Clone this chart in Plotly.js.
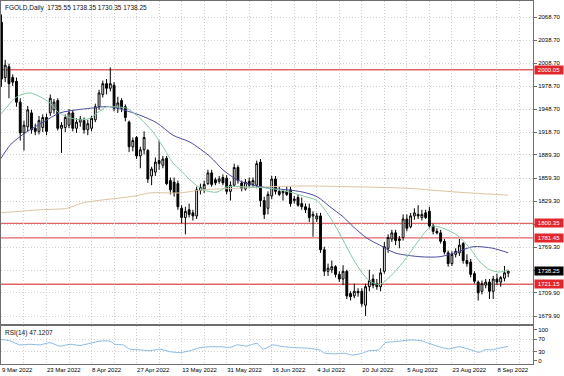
<!DOCTYPE html>
<html><head><meta charset="utf-8">
<script src="https://cdn.plot.ly/plotly-3.0.1.min.js"></script>
<style>html,body{margin:0;padding:0;background:#fff;overflow:hidden}#chart{width:564px;height:376px}</style>
</head><body><div id="chart"></div>
<script>
// ---- data ----
const openP  = [2062,1990,2004,1990,1985,1958,1918,1926,1944,1924,1920,1925,1938,1944,1948,1960,1924,1925,1928,1944,1924,1932,1934,1922,1924,1935,1952,1968,1982,1976,1980,1950,1960,1952,1932,1900,1912,1888,1896,1895,1862,1867,1882,1876,1885,1856,1854,1852,1820,1808,1818,1814,1810,1843,1845,1852,1866,1857,1855,1860,1859,1842,1850,1873,1853,1845,1855,1851,1850,1880,1830,1820,1836,1858,1842,1840,1842,1844,1830,1834,1826,1822,1820,1810,1806,1810,1766,1738,1740,1744,1734,1728,1738,1709,1706,1712,1712,1694,1718,1728,1722,1718,1738,1768,1780,1788,1778,1782,1806,1796,1810,1812,1808,1814,1816,1797,1790,1788,1777,1762,1748,1760,1762,1774,1752,1750,1735,1724,1712,1720,1724,1712,1728,1724,1729,1735.55];
const highP  = [2072,2013,2008,1994,1990,1963,1934,1953,1948,1930,1940,1942,1943,1968,1962,1963,1932,1942,1949,1948,1937,1940,1938,1935,1940,1956,1974,1986,1988,2003,1984,1965,1963,1955,1934,1912,1914,1900,1920,1897,1874,1886,1908,1888,1888,1860,1860,1856,1824,1822,1826,1818,1848,1852,1856,1870,1870,1860,1862,1864,1863,1855,1878,1876,1856,1858,1860,1860,1882,1884,1835,1842,1862,1862,1848,1845,1848,1848,1836,1838,1834,1826,1826,1816,1814,1814,1770,1748,1752,1746,1738,1746,1740,1712,1722,1716,1716,1722,1740,1734,1728,1742,1776,1786,1792,1792,1784,1812,1812,1814,1820,1824,1818,1818,1822,1800,1794,1792,1780,1765,1764,1768,1780,1776,1760,1754,1738,1726,1726,1728,1728,1732,1735,1732,1745,1738.35];
const lowP   = [1978,1984,1963,1979,1952,1908,1895,1920,1917,1915,1916,1919,1915,1940,1943,1921,1892,1919,1924,1920,1918,1926,1917,1915,1920,1932,1948,1964,1968,1972,1946,1944,1945,1933,1893,1894,1884,1872,1890,1853,1850,1862,1870,1872,1850,1838,1835,1818,1800,1786,1808,1804,1806,1838,1840,1850,1848,1850,1852,1850,1838,1830,1848,1852,1842,1843,1846,1848,1846,1822,1806,1812,1832,1838,1836,1830,1836,1822,1826,1822,1818,1814,1802,1783,1802,1762,1732,1732,1736,1730,1724,1720,1702,1700,1703,1705,1692,1680,1712,1716,1714,1712,1735,1762,1776,1772,1768,1778,1790,1794,1805,1806,1804,1806,1794,1786,1786,1774,1760,1744,1745,1756,1758,1748,1744,1730,1722,1700,1708,1716,1702,1702,1720,1718,1725,1730.35];
const closeP = [1988,2006,1982,1984,1958,1918,1928,1948,1922,1920,1934,1938,1920,1963,1958,1924,1928,1938,1944,1924,1932,1936,1922,1930,1937,1952,1970,1982,1976,1982,1950,1957,1950,1938,1900,1908,1888,1896,1912,1858,1871,1880,1878,1884,1852,1844,1840,1822,1808,1816,1812,1810,1844,1847,1851,1866,1851,1853,1858,1853,1842,1850,1873,1856,1846,1854,1850,1856,1878,1830,1812,1838,1858,1842,1838,1842,1838,1826,1832,1824,1822,1818,1808,1812,1810,1766,1738,1742,1744,1734,1728,1738,1706,1705,1712,1710,1696,1718,1726,1720,1718,1736,1770,1782,1788,1778,1780,1806,1794,1810,1814,1810,1812,1808,1797,1790,1788,1777,1763,1748,1760,1764,1772,1752,1748,1734,1725,1710,1722,1724,1712,1728,1724,1730,1736,1738.25];

const dateLabels = ["9 Mar 2022","23 Mar 2022","8 Apr 2022","27 Apr 2022","13 May 2022","31 May 2022","16 Jun 2022","4 Jul 2022","20 Jul 2022","5 Aug 2022","23 Aug 2022","8 Sep 2022"];
const dateLabelBars = [0,12,24,36,48,60,72,84,96,108,120,132];

const maFastBar = [-0.4,3.6,4.9,7.6,10.3,12.9,15.1,17.5,20.9,23.6,25.5,28.1,29.7,33.4,36.9,40.4,43,45.7,47.6,50.2,53.7,57.4,60.1,64.4,71.5,76.9,80.3,84,87,90,93,95.5,98.2,100.8,103.5,107,110.7,113.4,115,117.6,121.4,124.8,127.5,130.1,132.8,135];
const maFast    = [1941,1963,1967,1970,1965,1957,1945,1939,1935,1937,1944,1952,1952,1950,1937,1919,1900,1879,1870,1857,1844,1841,1848,1848,1846,1841,1836,1830,1812,1788,1760,1740,1725,1721,1731,1750,1775,1792,1797,1794,1785,1768,1750,1740,1737,1740];

const maMidBar = [-0.4,2.3,4.9,7.6,11.1,15.6,20.1,23.6,27.1,28.9,32.4,36.9,41.4,45.7,50.2,55.6,59,62.8,67,71.5,76.1,80.3,84.1,87.5,91,93.7,97.4,100.8,104.8,111.5,116.8,121.4,125.6,130.9,135];
const maMid    = [1883,1902,1913,1922,1932,1944,1948,1950,1952,1952,1948,1941,1931,1915,1906,1887,1870,1857,1850,1846,1844,1841,1835,1822,1809,1796,1781,1772,1762,1757,1757,1763,1770,1768,1762];

const maSlowBar = [-0.4,10.3,17.5,21.7,30.8,35.6,39.6,47.6,53.7,62.8,71.5,80.3,92.9,108,121.4,135];
const maSlow    = [1814,1818,1820,1827,1833,1836,1840,1840,1844,1846,1848,1849,1848,1846,1841,1837];

const rsiBar = [-0.4,2.3,4.9,7.6,10.3,12.9,15.6,18.3,20.9,23.6,26.3,28.9,30.2,32.4,34.2,36.9,39.6,42.2,44.9,47.6,50.2,52.9,55.6,58.2,60.9,62.8,65.4,68.1,69.7,72.3,74.7,78.2,81.9,84.6,86.2,88.9,91.5,93.4,96.1,97.9,100.6,102.2,104.8,106.7,109.4,112,113.9,116.6,119.2,121.9,124.6,127.2,128.8,130.7,132.5,135];
const rsiVal = [70,65,52,54,52,59,48,54,50,57,64,64,54,52,38,36,33,38,30,27,33,43,46,46,44,52,48,57,38,52,47,43,41,36,25,23,25,19,25,33,36,59,62,65,68,65,57,46,39,46,38,28,36,36,41,47.12];
const rsiLast = 47.1207;

const levelPrices = [2000.05, 1800.35, 1781.45, 1721.15];
const lastPrice = 1738.25;
const priceTicks = [2068.70,2038.70,2008.70,1978.70,1948.70,1918.70,1889.30,1859.30,1829.30,1799.30,1769.30,1739.60,1709.90,1679.90];
const rsiTicks = [100,70,30,0];
const rsiLevels = [70,30];

// ---- build ----
const FONT = "Liberation Sans, Arial, sans-serif";
const GRID = "#cfcfcf";
const DASH = "1px,2px";
const BORDER = "#6e6e6e";
const barIndex = closeP.map((_, i) => i);
const last = closeP.length - 1;

const gridBars = [], gridText = [];
for (let b = 0; b <= 138; b += 6) {
  gridBars.push(b);
  const k = dateLabelBars.indexOf(b);
  gridText.push(k >= 0 ? dateLabels[k] : "");
}

const traces = [
  {type:'scatter', mode:'lines', x:maSlowBar, y:maSlow, line:{color:'#dcc3a2', width:1, shape:'spline', smoothing:0.8}, hoverinfo:'skip', xaxis:'x', yaxis:'y'},
  {type:'scatter', mode:'lines', x:maMidBar, y:maMid, line:{color:'#4b4b9e', width:1, shape:'spline', smoothing:0.8}, hoverinfo:'skip', xaxis:'x', yaxis:'y'},
  {type:'scatter', mode:'lines', x:maFastBar, y:maFast, line:{color:'#86c9a4', width:1, shape:'spline', smoothing:0.8}, hoverinfo:'skip', xaxis:'x', yaxis:'y'},
  {type:'candlestick', x:barIndex, open:openP, high:highP, low:lowP, close:closeP,
   increasing:{line:{color:'#000', width:1}, fillcolor:'#ffffff'},
   decreasing:{line:{color:'#000', width:1}, fillcolor:'#000000'},
   whiskerwidth:0, hoverinfo:'skip', xaxis:'x', yaxis:'y'},
  {type:'scatter', mode:'lines', x:rsiBar, y:rsiVal, line:{color:'#8dbbe3', width:1, shape:'spline', smoothing:0.6}, hoverinfo:'skip', xaxis:'x', yaxis:'y2'}
];

const shapes = levelPrices.map(p => ({type:'line', xref:'paper', x0:0, x1:1, yref:'y', y0:p, y1:p, line:{color:'#e06464', width:1.4}, layer:'below'}));

const annotations = [
  {xref:'paper', yref:'paper', x:0, y:1, xanchor:'left', yanchor:'top', xshift:2, yshift:-1, showarrow:false,
   text:'FGOLD,Daily&nbsp;&nbsp;' + [openP[last], highP[last], lowP[last], closeP[last]].map(v => v.toFixed(2)).join(' '),
   font:{family:FONT, size:6.5, color:'#111'}},
  {xref:'paper', yref:'paper', x:0, y:0.1047, xanchor:'left', yanchor:'top', xshift:2, yshift:-1, showarrow:false,
   text:'RSI(14) ' + rsiLast.toFixed(4), font:{family:FONT, size:6.5, color:'#111'}}
];
levelPrices.forEach(p => annotations.push({xref:'paper', x:1, xanchor:'left', xshift:1, yref:'y', y:p, showarrow:false,
  text:p.toFixed(2), bgcolor:'#e3262b', font:{family:FONT, size:6, color:'#fff'}, width:28, height:8, borderpad:0}));
annotations.push({xref:'paper', x:1, xanchor:'left', xshift:1, yref:'y', y:lastPrice, showarrow:false,
  text:lastPrice.toFixed(2), bgcolor:'#000', font:{family:FONT, size:6, color:'#fff'}, width:28, height:8, borderpad:0});

const layout = {
  width:564, height:376, margin:{l:1, r:31, t:1, b:12},
  paper_bgcolor:'#fff', plot_bgcolor:'#fff', showlegend:false,
  font:{family:FONT, size:6, color:'#000'},
  xaxis:{range:[-0.12, 141.6], anchor:'y2', tickmode:'array', tickvals:gridBars, ticktext:gridText,
    ticklabelposition:'outside right', tickfont:{family:FONT, size:6, color:'#000'},
    showgrid:true, gridcolor:GRID, griddash:DASH, gridwidth:1,
    showline:true, linecolor:BORDER, linewidth:1, mirror:'all', ticks:'', zeroline:false,
    rangeslider:{visible:false}, fixedrange:true},
  yaxis:{domain:[0.1102, 1], range:[1669.5, 2089.5], anchor:'x', side:'right',
    tickmode:'array', tickvals:priceTicks, ticktext:priceTicks.map(v => v.toFixed(2)),
    tickfont:{family:FONT, size:6, color:'#000'}, ticks:'outside', ticklen:3, tickcolor:BORDER,
    showgrid:true, gridcolor:GRID, griddash:DASH, gridwidth:1,
    showline:true, linecolor:BORDER, linewidth:1, mirror:'all', zeroline:false, fixedrange:true},
  yaxis2:{domain:[0, 0.1047], range:[-9.7, 112.9], anchor:'x', side:'right',
    tickmode:'array', tickvals:rsiTicks, ticktext:rsiTicks.map(String),
    tickfont:{family:FONT, size:6, color:'#000'}, ticks:'outside', ticklen:3, tickcolor:BORDER,
    showgrid:false,
    minor:{tickmode:'array', tickvals:rsiLevels, showgrid:true, gridcolor:GRID, griddash:DASH, gridwidth:1, ticks:''},
    showline:true, linecolor:BORDER, linewidth:1, mirror:'all', zeroline:false, fixedrange:true},
  shapes:shapes, annotations:annotations
};

Plotly.newPlot('chart', traces, layout, {staticPlot:true, displayModeBar:false});
</script></body></html>
